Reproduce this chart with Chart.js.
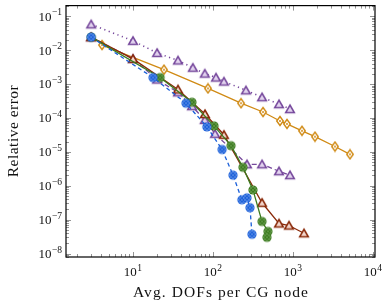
<!DOCTYPE html>
<html>
<head>
<meta charset="utf-8">
<script src="https://cdn.jsdelivr.net/npm/chart.js@4/dist/chart.umd.min.js"></script>
<style>
  html, body { margin: 0; padding: 0; background: #fff; }
  #wrap { width: 390px; height: 307px; }
</style>
</head>
<body>
<div id="wrap"><canvas id="chart" width="390" height="307"></canvas></div>
<script>
// data (x = avg DOFs per CG node, y = relative error)
const xPurpleDot = [3, 10, 20, 36.5, 56, 79, 109, 137, 258, 410, 668, 917];
const yPurpleDot = [0.0574, 0.0187, 0.00824, 0.00493, 0.00302, 0.00202, 0.00155, 0.00118, 6.5e-4, 4.07e-4, 2.54e-4, 1.82e-4];

const xOrange = [4.1, 24.4, 86.6, 224, 422, 688, 841, 1296, 1884, 3350, 5157];
const yOrange = [0.01406, 0.00264, 7.4e-4, 2.71e-4, 1.49e-4, 8.1e-5, 6.65e-5, 4.16e-5, 2.79e-5, 1.43e-5, 8.4e-6];

const xBlue = [3, 17.8, 46, 84, 130, 178, 230, 266, 290, 307];
const yBlue = [0.024, 1.55e-3, 2.71e-4, 5.43e-5, 1.17e-5, 2.05e-6, 3.84e-7, 4.38e-7, 2.25e-7, 3.69e-8];

const xGreen = [3, 21.8, 54.6, 103, 168, 237, 316, 410, 487, 473];
const yGreen = [0.024, 1.55e-3, 2.9e-4, 5.8e-5, 1.52e-5, 3.5e-6, 7.5e-7, 8.8e-8, 4.5e-8, 3.0e-8];

const xBrown = [3, 10, 36.5, 79.4, 137, 410, 668, 891, 1372];
const yBrown = [0.024, 5.5e-3, 6.9e-4, 1.3e-4, 3.18e-5, 3.14e-7, 7.7e-8, 6.7e-8, 3.95e-8];

const xPurpleDash = [3, 10, 20, 36.5, 54.6, 79, 106, 266, 410, 668, 917];
const yPurpleDash = [0.024, 5.5e-3, 1.35e-3, 5.66e-4, 2.22e-4, 8.7e-5, 3.4e-5, 4.28e-6, 4.28e-6, 2.67e-6, 2.05e-6];

const xTickExps = [1, 2, 3, 4];
const yTickExps = [-1, -2, -3, -4, -5, -6, -7, -8];
const xTitle = 'Avg. DOFs per CG node';
const yTitle = 'Relative error';

const PURPLE = '#76489c';
const ORANGE = '#d08a14';
const BLUE = '#1a5fd9';
const GREEN = '#3b7a1e';
const BROWN = '#8a2a0a';
const FONT = '"Liberation Serif", "DejaVu Serif", serif';

const pts = (xs, ys) => xs.map((x, i) => ({ x, y: ys[i] }));

// marker images
function triMarker(stroke, fill) {
  const c = document.createElement('canvas');
  c.width = c.height = 14;
  const g = c.getContext('2d');
  const cx = 7, cy = 8, r = 5;
  g.beginPath();
  g.moveTo(cx, cy - r);
  g.lineTo(cx + r * 0.87, cy + r * 0.5);
  g.lineTo(cx - r * 0.87, cy + r * 0.5);
  g.closePath();
  g.fillStyle = fill;
  g.fill();
  g.lineWidth = 1.5;
  g.strokeStyle = stroke;
  g.stroke();
  return c;
}

function diamondMarker(stroke) {
  const c = document.createElement('canvas');
  c.width = c.height = 12;
  const g = c.getContext('2d');
  g.beginPath();
  g.moveTo(6, 1.5);
  g.lineTo(9.3, 6);
  g.lineTo(6, 10.5);
  g.lineTo(2.7, 6);
  g.closePath();
  g.fillStyle = '#fff';
  g.fill();
  g.lineWidth = 1.4;
  g.strokeStyle = stroke;
  g.stroke();
  g.beginPath();
  g.arc(6, 6, 1, 0, Math.PI * 2);
  g.fillStyle = stroke;
  g.fill();
  return c;
}

function dotMarker(color, dots) {
  const c = document.createElement('canvas');
  c.width = c.height = 12;
  const g = c.getContext('2d');
  g.beginPath();
  g.arc(6, 6, 4.6, 0, Math.PI * 2);
  g.fillStyle = color;
  g.fill();
  g.fillStyle = dots;
  [[6, 6], [4, 4], [8, 4], [4, 8], [8, 8], [6, 2.8], [6, 9.2], [2.8, 6], [9.2, 6]].forEach(([a, b]) => {
    g.fillRect(a - 0.5, b - 0.5, 1, 1);
  });
  return c;
}

const axisPlugin = {
  id: 'axisPlugin',
  afterDraw(chart) {
    const { ctx, chartArea: a, scales } = chart;
    const sx = scales.x;
    const sy = scales.y;
    ctx.save();

    // inner log ticks on all four sides
    ctx.strokeStyle = '#666';
    ctx.lineWidth = 0.7;
    ctx.beginPath();
    for (let e = 0; e <= 4; e++) {
      for (let m = 1; m <= 9; m++) {
        const v = m * Math.pow(10, e);
        if (v < sx.min || v > sx.max) continue;
        const px = Math.round(sx.getPixelForValue(v)) + 0.5;
        const len = m === 1 ? 5 : 3;
        ctx.moveTo(px, a.bottom); ctx.lineTo(px, a.bottom - len);
        ctx.moveTo(px, a.top); ctx.lineTo(px, a.top + len);
      }
    }
    for (let e = -9; e <= 0; e++) {
      for (let m = 1; m <= 9; m++) {
        const v = m * Math.pow(10, e);
        if (v < sy.min || v > sy.max) continue;
        const py = Math.round(sy.getPixelForValue(v)) + 0.5;
        const len = m === 1 ? 5 : 3;
        ctx.moveTo(a.left, py); ctx.lineTo(a.left + len, py);
        ctx.moveTo(a.right, py); ctx.lineTo(a.right - len, py);
      }
    }
    ctx.stroke();

    // frame
    ctx.strokeStyle = '#000';
    ctx.lineWidth = 1.2;
    ctx.strokeRect(a.left, a.top, a.right - a.left, a.bottom - a.top);

    // tick labels 10^k
    ctx.fillStyle = '#111';
    ctx.textBaseline = 'alphabetic';
    const powLabel = (exp, x, baseY, align) => {
      const expStr = exp < 0 ? '\u2212' + (-exp) : String(exp);
      ctx.font = '13px ' + FONT;
      const w1 = ctx.measureText('10').width;
      ctx.font = '9.5px ' + FONT;
      const w2 = ctx.measureText(expStr).width;
      const total = w1 + 0.5 + w2;
      const start = align === 'right' ? x - total : x - total / 2;
      ctx.textAlign = 'left';
      ctx.font = '13px ' + FONT;
      ctx.fillText('10', start, baseY);
      ctx.font = '9.5px ' + FONT;
      ctx.fillText(expStr, start + w1 + 0.5, baseY - 5.5);
    };
    yTickExps.forEach((e) => {
      const py = sy.getPixelForValue(Math.pow(10, e));
      powLabel(e, 62, py + 4.5, 'right');
    });
    xTickExps.forEach((e) => {
      const px = sx.getPixelForValue(Math.pow(10, e));
      powLabel(e, px, 276, 'center');
    });

    // axis titles, stretched to the reference width
    const fitText = (txt, width) => {
      ctx.font = '15.5px ' + FONT;
      ctx.letterSpacing = '0px';
      const w = ctx.measureText(txt).width;
      const ls = (width - w) / (txt.length - 1);
      ctx.letterSpacing = ls.toFixed(2) + 'px';
    };
    ctx.textAlign = 'center';
    fitText(xTitle, 175);
    ctx.fillText(xTitle, 221, 297);

    fitText(yTitle, 92);
    ctx.translate(18, 131);
    ctx.rotate(-Math.PI / 2);
    ctx.fillText(yTitle, 0, 0);
    ctx.restore();
  },
};

const ctx = document.getElementById('chart').getContext('2d');
new Chart(ctx, {
  type: 'line',
  data: {
    datasets: [
      {
        data: pts(xBlue, yBlue),
        borderColor: BLUE,
        borderWidth: 1.3,
        borderDash: [4, 3],
        pointStyle: dotMarker(BLUE, '#cfe0ff'),
      },
      {
        data: pts(xGreen, yGreen),
        borderColor: GREEN,
        borderWidth: 1.3,
        pointStyle: dotMarker(GREEN, '#b9d9a8'),
      },
      {
        data: pts(xBrown, yBrown),
        borderColor: BROWN,
        borderWidth: 1.3,
        pointStyle: triMarker(BROWN, '#f3d6cc'),
      },
      {
        data: pts(xPurpleDash, yPurpleDash),
        borderColor: PURPLE,
        borderWidth: 1.3,
        borderDash: [5, 3],
        pointStyle: triMarker(PURPLE, '#e3d4ef'),
      },
      {
        data: pts(xOrange, yOrange),
        borderColor: ORANGE,
        borderWidth: 1.3,
        pointStyle: diamondMarker(ORANGE),
      },
      {
        data: pts(xPurpleDot, yPurpleDot),
        borderColor: PURPLE,
        borderWidth: 1.6,
        borderDash: [1.2, 3.5],
        pointStyle: triMarker(PURPLE, '#e3d4ef'),
      },
    ],
  },
  options: {
    responsive: false,
    animation: false,
    layout: { padding: { left: 66, right: 15, top: 2, bottom: 50 } },
    elements: { line: { tension: 0, fill: false } },
    plugins: { legend: { display: false }, tooltip: { enabled: false } },
    scales: {
      x: { type: 'logarithmic', min: 1.454, max: 10600, display: false },
      y: { type: 'logarithmic', min: 7.9e-9, max: 0.2047, display: false },
    },
  },
  plugins: [axisPlugin],
});
</script>
</body>
</html>
